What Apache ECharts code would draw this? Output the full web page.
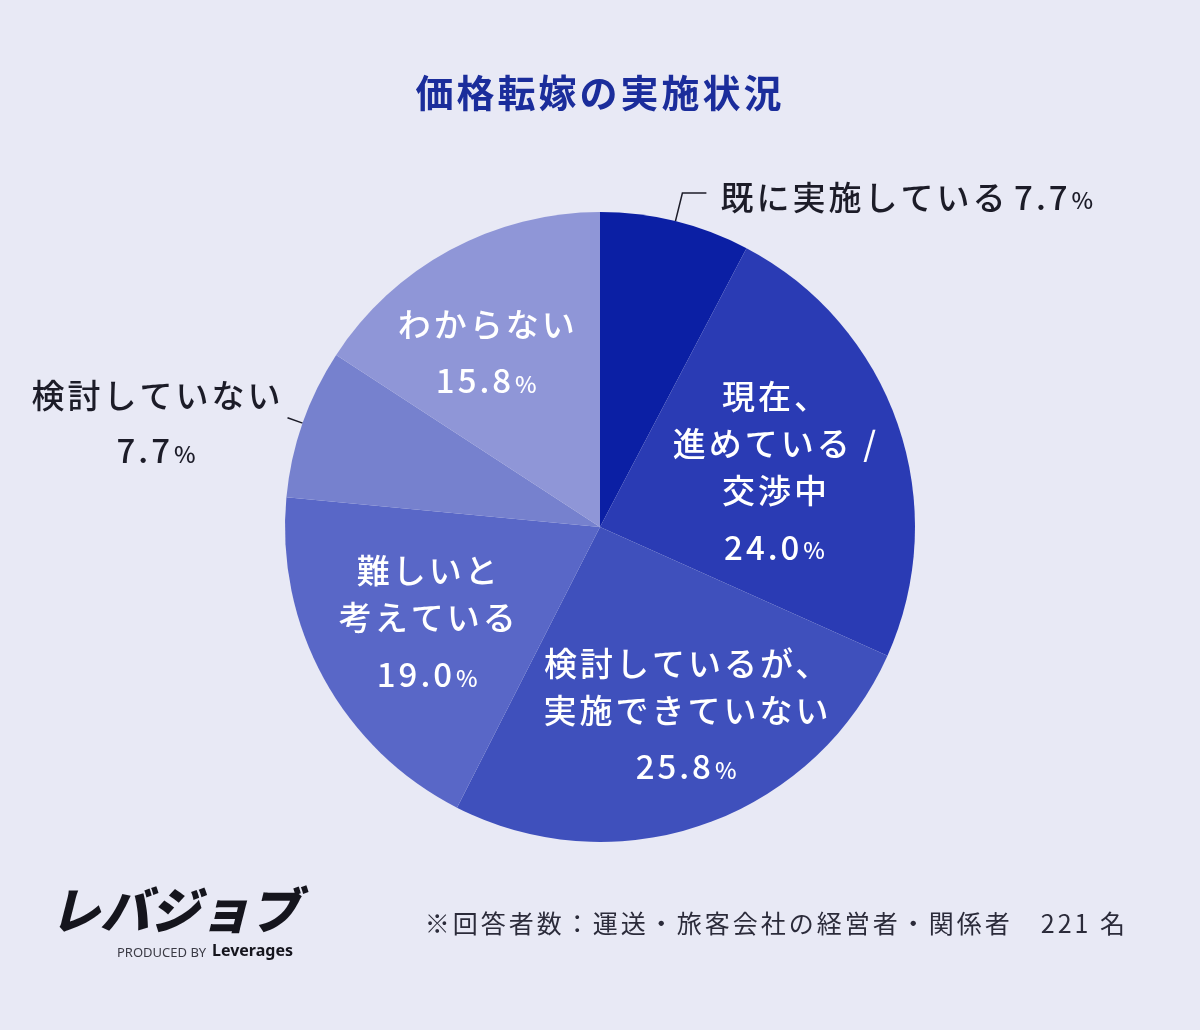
<!DOCTYPE html>
<html>
<head>
<meta charset="utf-8">
<script src="https://cdn.jsdelivr.net/npm/echarts@6/dist/echarts.min.js"></script>
<style>
  html, body { margin: 0; padding: 0; background: #e8e9f5; }
  #main { width: 1200px; height: 1030px; }
</style>
</head>
<body>
<div id="main"></div>
<script>
// 価格転嫁の実施状況 (回答者 221 名)
const categories = [
  '既に実施している',
  '現在、\n進めている /\n交渉中',
  '検討しているが、\n実施できていない',
  '難しいと\n考えている',
  '検討していない',
  'わからない'
];
const values = [7.7, 24.0, 25.8, 19.0, 7.7, 15.8];
const colors = ['#0b1fa4', '#2a3bb4', '#3f50bc', '#5967c7', '#7681ce', '#8f96d7'];
const outsideLabel = [true, false, false, false, true, false];
// small hand nudges for the inside labels (px)
const labelNudge = [[0, 0], [-13, 15], [21, 4], [4, 4], [0, 0], [-17, 6]];

const FONT = '"Noto Sans CJK JP", "Noto Sans", sans-serif';
const R = 315;
const LABEL_R = 197;

// the original artwork uses loose tracking on the Japanese text
const TRACKING = '3px';
function trackingFor(font) {
  return font && font.indexOf('CJK') >= 0 && font.indexOf('italic') < 0 ? TRACKING : '0px';
}
const measureCtx = document.createElement('canvas').getContext('2d');
echarts.setPlatformAPI({
  measureText: function (text, font) {
    measureCtx.font = font || '12px sans-serif';
    measureCtx.letterSpacing = trackingFor(measureCtx.font);
    return measureCtx.measureText(text);
  }
});
const origFillText = CanvasRenderingContext2D.prototype.fillText;
CanvasRenderingContext2D.prototype.fillText = function () {
  this.letterSpacing = trackingFor(this.font);
  return origFillText.apply(this, arguments);
};

// mid angle of each slice (clockwise from 12 o'clock), used to push inside labels outward
const total = values.reduce((a, b) => a + b, 0);
const midAngles = [];
let acc = 0;
values.forEach(v => {
  midAngles.push((acc + v / 2) / total * Math.PI * 2);
  acc += v;
});

const chart = echarts.init(document.getElementById('main'));

const data = categories.map((name, i) => {
  const item = { name: name, value: values[i], itemStyle: { color: colors[i] } };
  if (outsideLabel[i]) {
    item.label = {
      position: 'outside',
      distanceToLabelLine: i === 0 ? 14 : 4,
      padding: i === 0 ? [8, 0, 0, 0] : [16, 0, 0, 0],
      formatter: p => i === 0
        ? '{o|' + p.name + '} {ov|' + p.value.toFixed(1) + '}{op|%}'
        : '{o|' + p.name + '}\n{ov|' + p.value.toFixed(1) + '}{op|%}'
    };
    item.labelLine = {
      show: true,
      length: i === 0 ? 29 : 16,
      length2: i === 0 ? 24 : 0,
      lineStyle: { color: '#1c1c28', width: 1.5 }
    };
  }
  return item;
});

const option = {
  backgroundColor: '#e8e9f5',
  title: {
    text: '価格転嫁の実施状況',
    left: 'center',
    top: 67,
    textStyle: {
      fontFamily: FONT,
      fontSize: 38,
      fontWeight: 'bold',
      color: '#1b2d9b'
    }
  },
  series: [{
    type: 'pie',
    center: [600, 527],
    radius: [0, R],
    startAngle: 90,
    clockwise: true,
    avoidLabelOverlap: false,
    animation: false,
    itemStyle: { borderWidth: 0 },
    emphasis: { disabled: true },
    label: {
      show: true,
      position: 'inside',
      fontFamily: FONT,
      formatter: p => '{n|' + p.name + '}\n{v|' + p.value.toFixed(1) + '}{p|%}',
      rich: {
        n: { fontFamily: FONT, fontSize: 33, fontWeight: 500, lineHeight: 47, color: '#ffffff', align: 'center' },
        v: { fontFamily: FONT, fontSize: 33, fontWeight: 500, lineHeight: 66, color: '#ffffff', align: 'center' },
        p: { fontFamily: FONT, fontSize: 23, fontWeight: 500, lineHeight: 66, color: '#ffffff', align: 'center', padding: [7, 0, 0, 1] },
        o: { fontFamily: FONT, fontSize: 33, fontWeight: 500, lineHeight: 50, color: '#1c1c28', align: 'center' },
        ov: { fontFamily: FONT, fontSize: 33, fontWeight: 500, lineHeight: 60, color: '#1c1c28', align: 'center' },
        op: { fontFamily: FONT, fontSize: 23, fontWeight: 500, lineHeight: 60, color: '#1c1c28', align: 'center', padding: [7, 0, 0, 1] }
      }
    },
    labelLine: { show: true },
    labelLayout: function (p) {
      const i = p.dataIndex;
      if (outsideLabel[i]) return {};
      const s = LABEL_R - R / 2;
      const a = midAngles[i];
      return {
        dx: s * Math.sin(a) + labelNudge[i][0],
        dy: -s * Math.cos(a) + labelNudge[i][1]
      };
    },
    data: data
  }],
  graphic: [
    {
      type: 'text',
      right: 72,
      top: 909,
      style: {
        text: '※回答者数：運送・旅客会社の経営者・関係者　221 名',
        fontFamily: FONT,
        fontSize: 25,
        fill: '#2b2b3a'
      }
    },
    {
      type: 'text',
      left: 50,
      top: 885,
      style: {
        text: 'レバジョブ',
        fontFamily: FONT,
        fontSize: 50,
        fontWeight: 900,
        fontStyle: 'italic',
        fill: '#15151d'
      }
    },
    {
      type: 'text',
      left: 117,
      top: 947,
      style: {
        text: 'PRODUCED BY',
        fontFamily: '"Noto Sans", sans-serif',
        fontSize: 13,
        fill: '#3a3a44'
      }
    },
    {
      type: 'text',
      left: 212,
      top: 943,
      style: {
        text: 'Leverages',
        fontFamily: '"Noto Sans", sans-serif',
        fontSize: 16,
        fontWeight: 'bold',
        fill: '#15151d'
      }
    }
  ]
};

chart.setOption(option);
</script>
</body>
</html>
